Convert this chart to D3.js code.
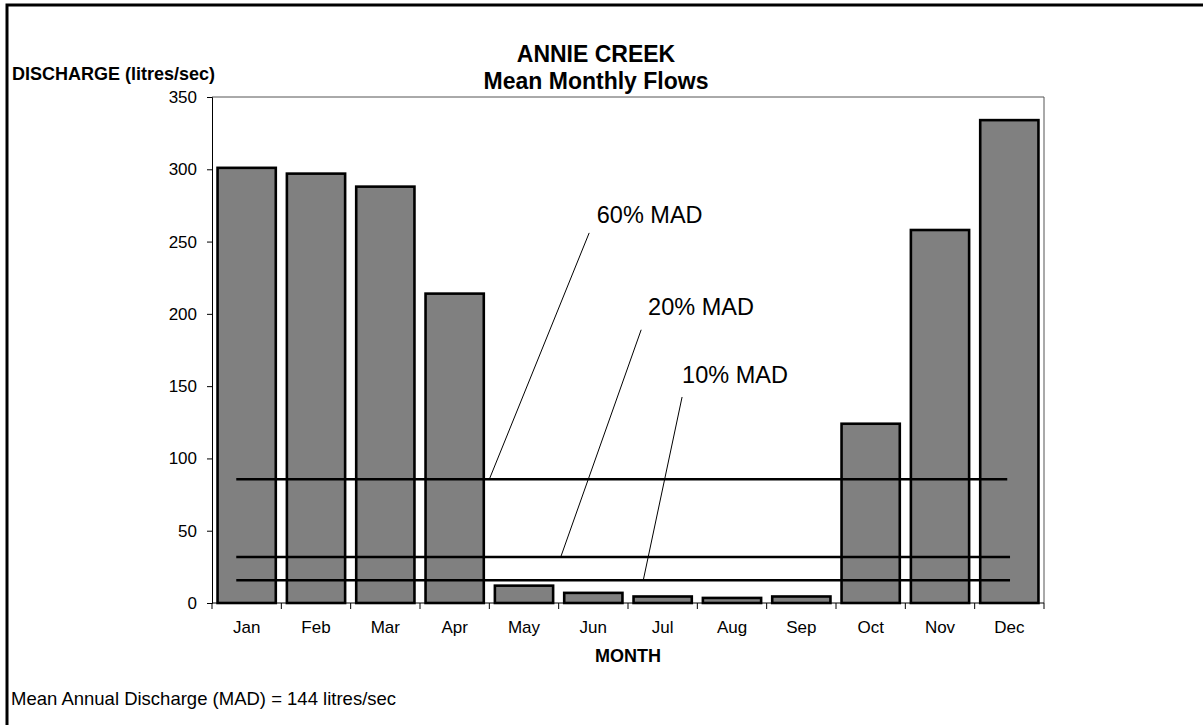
<!DOCTYPE html>
<html>
<head>
<meta charset="utf-8">
<script src="https://cdn.jsdelivr.net/npm/d3@7.9.0/dist/d3.min.js"></script>
<style>
  body { margin: 0; background: #fff; }
  svg { display: block; font-family: Arial, "Liberation Sans", sans-serif; }
</style>
</head>
<body>
<div id="chart"></div>
<script>
const months = ['Jan', 'Feb', 'Mar', 'Apr', 'May', 'Jun', 'Jul', 'Aug', 'Sep', 'Oct', 'Nov', 'Dec'];
const discharge = [301, 297, 288, 214, 12, 7, 4.5, 3.5, 4.5, 124, 258, 334];
const yTicks = [0, 50, 100, 150, 200, 250, 300, 350];

// MAD reference lines: level, x extent (in month units, 0..12), label and leader positions
const madLines = [
  { name: '60% MAD', value: 85.6, x0: 0.35, x1: 11.47, lx: 5.55, ly: 263, tx: 5.44, ty: 256, bx: 4.0, by: 85.6 },
  { name: '20% MAD', value: 31.8, x0: 0.35, x1: 11.51, lx: 6.29, ly: 199, tx: 6.19, ty: 189, bx: 5.03, by: 31.8 },
  { name: '10% MAD', value: 15.7, x0: 0.35, x1: 11.51, lx: 6.78, ly: 152, tx: 6.78, ty: 142.5, bx: 6.22, by: 15.7 }
];

const width = 1203;
const height = 725;
const margin = { top: 97, right: 159, bottom: 122, left: 212 };

const svg = d3.select('#chart')
  .append('svg')
  .attr('width', width)
  .attr('height', height);

// outer frame (only the top and left edges show in the window)
svg.append('rect')
  .attr('x', 7).attr('y', 5)
  .attr('width', 1400).attr('height', 900)
  .attr('fill', 'none')
  .attr('stroke', '#000')
  .attr('stroke-width', 3);

const x = d3.scaleBand()
  .domain(months)
  .range([margin.left, width - margin.right])
  .paddingInner(0.16)
  .paddingOuter(0.08);

const xLin = d3.scaleLinear()
  .domain([0, 12])
  .range([margin.left, width - margin.right]);

const y = d3.scaleLinear()
  .domain([0, 350])
  .range([height - margin.bottom, margin.top]);

// plot area frame (top + right)
svg.append('path')
  .attr('d', `M${xLin(0)},${y(350)}H${xLin(12)}V${y(0)}`)
  .attr('fill', 'none')
  .attr('stroke', '#555')
  .attr('stroke-width', 1);

// bars
svg.append('g')
  .selectAll('rect')
  .data(months)
  .join('rect')
  .attr('x', d => x(d))
  .attr('y', (d, i) => y(discharge[i]))
  .attr('width', x.bandwidth())
  .attr('height', (d, i) => y(0) - y(discharge[i]))
  .attr('fill', '#808080')
  .attr('stroke', '#000')
  .attr('stroke-width', 2.6);

// y axis
const yAxis = svg.append('g')
  .attr('transform', `translate(${margin.left},0)`)
  .call(d3.axisLeft(y).tickValues(yTicks).tickSize(5).tickPadding(10));
yAxis.select('.domain').attr('stroke', '#000');
yAxis.selectAll('text').attr('font-size', 17).attr('fill', '#000');

// x axis: ticks at category boundaries
const xAxis = svg.append('g')
  .attr('transform', `translate(0,${y(0)})`);
xAxis.append('line')
  .attr('x1', xLin(0)).attr('x2', xLin(12))
  .attr('stroke', '#000');
xAxis.selectAll('line.tick')
  .data(d3.range(13))
  .join('line')
  .attr('class', 'tick')
  .attr('x1', d => xLin(d)).attr('x2', d => xLin(d))
  .attr('y1', 0).attr('y2', 6)
  .attr('stroke', '#000');
xAxis.selectAll('text')
  .data(months)
  .join('text')
  .attr('x', d => x(d) + x.bandwidth() / 2)
  .attr('y', 30)
  .attr('text-anchor', 'middle')
  .attr('font-size', 17)
  .text(d => d);

// MAD lines
svg.append('g')
  .selectAll('line')
  .data(madLines)
  .join('line')
  .attr('x1', d => xLin(d.x0))
  .attr('x2', d => xLin(d.x1))
  .attr('y1', d => y(d.value))
  .attr('y2', d => y(d.value))
  .attr('stroke', '#000')
  .attr('stroke-width', 2.6);

// leader lines + labels
const ann = svg.append('g');
ann.selectAll('line')
  .data(madLines)
  .join('line')
  .attr('x1', d => xLin(d.tx)).attr('y1', d => y(d.ty))
  .attr('x2', d => xLin(d.bx)).attr('y2', d => y(d.by))
  .attr('stroke', '#000')
  .attr('stroke-width', 1);
ann.selectAll('text')
  .data(madLines)
  .join('text')
  .attr('x', d => xLin(d.lx))
  .attr('y', d => y(d.ly))
  .attr('font-size', 23.5)
  .text(d => d.name);

// titles
svg.append('text')
  .attr('x', 596).attr('y', 62)
  .attr('text-anchor', 'middle')
  .attr('font-size', 23)
  .attr('font-weight', 'bold')
  .text('ANNIE CREEK');
svg.append('text')
  .attr('x', 596).attr('y', 89)
  .attr('text-anchor', 'middle')
  .attr('font-size', 23)
  .attr('font-weight', 'bold')
  .text('Mean Monthly Flows');

svg.append('text')
  .attr('x', 12).attr('y', 80)
  .attr('font-size', 18)
  .attr('font-weight', 'bold')
  .text('DISCHARGE (litres/sec)');

svg.append('text')
  .attr('x', xLin(6)).attr('y', 662)
  .attr('text-anchor', 'middle')
  .attr('font-size', 18)
  .attr('font-weight', 'bold')
  .text('MONTH');

svg.append('text')
  .attr('x', 11).attr('y', 705)
  .attr('font-size', 18.5)
  .text('Mean Annual Discharge (MAD) = 144 litres/sec');
</script>
</body>
</html>
